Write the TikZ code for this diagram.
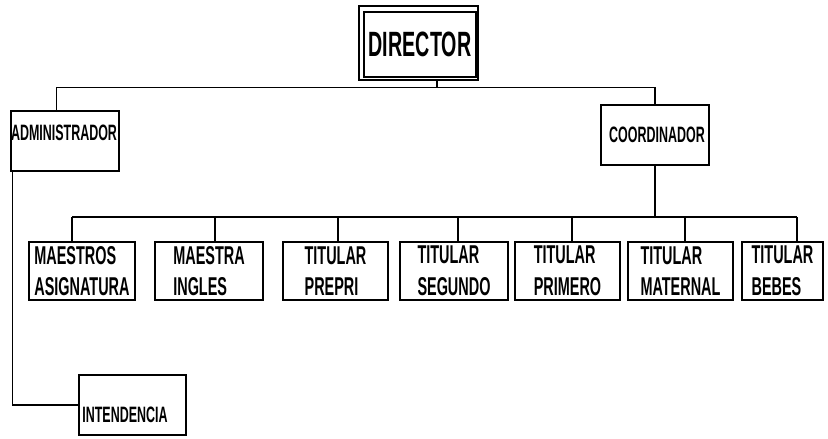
\documentclass[tikz,border=0pt]{standalone}
\usepackage{fontspec}
\newfontfamily\orgfont[FakeStretch=0.56]{Liberation Sans}

\begin{document}
\begin{tikzpicture}[x=0.03cm, y=-0.03cm, line width=0.9pt,
    box/.style={draw, line width=1.1pt, inner sep=0pt, minimum height=1.74cm},
    row/.style={box, align=left, font=\orgfont\bfseries\fontsize{22}{27}\selectfont},
    small/.style={font=\orgfont\bfseries\fontsize{19}{21}\selectfont}]
    \useasboundingbox (0,0) rectangle (828,438);

    % Director (double frame)
    \node[box, minimum width=3.57cm, minimum height=2.22cm] (dir) at (418.5,43) {};
    \draw[line width=1.6pt] ([shift={(6,7)}]dir.north west) rectangle ([shift={(-3,-4)}]dir.south east);
    \node[font=\orgfont\bfseries\fontsize{30}{34}\selectfont] (dirtxt) at (420,44) {DIRECTOR};

    % Administrador and coordinador
    \node[box, minimum width=3.24cm, minimum height=1.8cm] (adm) at (65,141) {};
    \node[small] (admtxt) at (64,133) {ADMINISTRADOR};
    \node[box, minimum width=3.24cm, minimum height=1.8cm] (coo) at (655,135) {};
    \node[small] (cootxt) at (657,135) {COORDINADOR};

    % Intendencia
    \node[box, minimum width=3.21cm, minimum height=1.8cm] (int) at (132.5,405) {};
    \node[small] (inttxt) at (125,415) {INTENDENCIA};

    % Teachers row
    \foreach \n/\x/\w/\t in {b1/82/3.18/{MAESTROS\\ASIGNATURA}, b2/209/3.24/{MAESTRA\\INGLES},
        b3/335.5/3.15/{TITULAR\\PREPRI}, b4/454/3.24/{TITULAR\\SEGUNDO},
        b5/567.5/3.15/{TITULAR\\PRIMERO}, b6/680.5/3.15/{TITULAR\\MATERNAL},
        b7/782.5/2.43/{TITULAR\\BEBES}}
        \node[row, minimum width=\w cm] (\n) at (\x,271) {\t};

    % Connectors
    \coordinate (bus1) at (437,88);
    \coordinate (bus2) at (655,217);
    \coordinate (busl) at (72,217);
    \coordinate (busr) at (797,217);
    \draw (dir.south -| bus1) -- (bus1);
    \draw ([xshift=-7]adm.north) -- ++(0,-23) -| (coo.north);
    \draw (coo.south) -- (bus2);
    \draw (busl) -- (busr);
    \foreach \n/\x in {b1/72, b2/215, b3/338, b4/458, b5/572, b6/685, b7/797}
        \draw (\n.north -| \x,0) -- (\x,217);
    \draw ([xshift=-45]adm.south) |- (int.west);
\end{tikzpicture}
\end{document}
